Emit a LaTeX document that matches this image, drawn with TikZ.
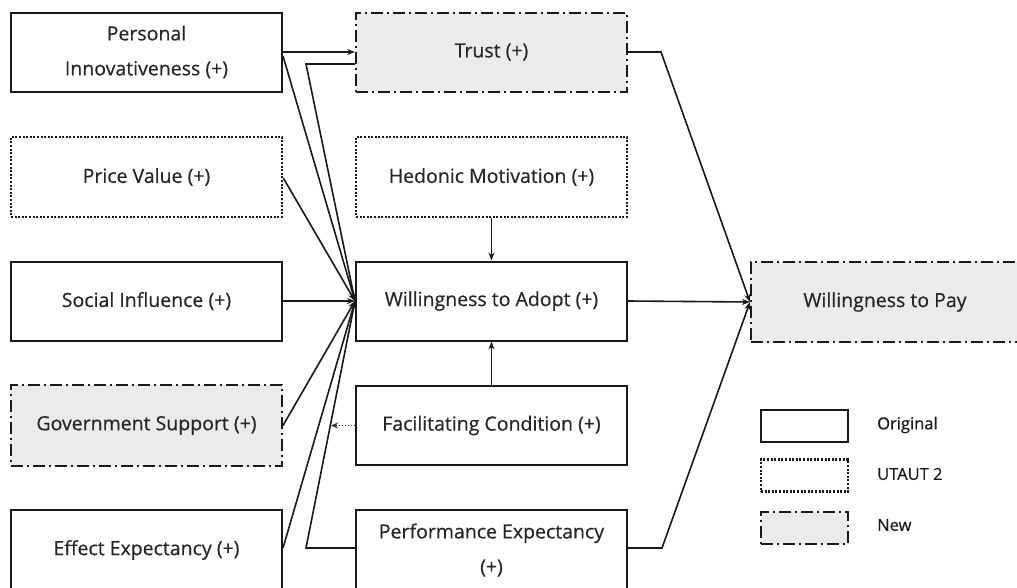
\documentclass[tikz,border=0pt]{standalone}
\usepackage{fontspec}
\setmainfont{Open Sans}[FakeBold=0.5]
\usetikzlibrary{arrows.meta}
\begin{document}
\begin{tikzpicture}[x=1pt,y=-1pt,
  box/.style={draw=black!90, line width=2pt, minimum width=271pt, minimum height=79pt,
    inner sep=0pt, align=center, text=black!85, font=\fontsize{19.5}{35}\selectfont},
  orig/.style={box},
  utaut/.style={box, dash pattern=on 2pt off 1.6pt, line width=2.6pt},
  newc/.style={box, fill=black!8, dash pattern=on 12pt off 4pt on 2pt off 4pt},
  legbox/.style={minimum width=87pt, minimum height=32pt, font=\fontsize{1}{1}\selectfont},
  leglabel/.style={anchor=west, inner sep=0pt, text=black!90, font=\fontsize{16.5}{18}\selectfont},
  link/.style={draw=black!90, line width=1.6pt},
  arr/.style={link, -{Stealth[length=8pt,width=6pt]}},
  darr/.style={draw=black!80, line width=1.6pt, dash pattern=on 1.5pt off 1.5pt, -{Stealth[length=7pt,width=6pt]}},
]
\useasboundingbox (0,0) rectangle (1017,587);
\clip (0,0) rectangle (1017,587);

% left column
\node[orig]  (pi) at (146.5,52)    {Personal\\Innovativeness (+)};
\node[utaut, minimum height=80pt] (pv) at (146.5,177) {Price Value (+)};
\node[orig]  (si) at (146.5,301)   {Social Influence (+)};
\node[newc, minimum height=81pt]  (gs) at (146.5,425.5) {Government Support (+)};
\node[orig, minimum height=80pt]  (ee) at (146.5,550) {Effect Expectancy (+)};

% middle column
\node[newc]  (tr) at (491.5,52)    {Trust (+)};
\node[utaut, minimum height=80pt] (hm) at (491.5,177) {Hedonic Motivation (+)};
\node[orig]  (wa) at (491.5,301)   {Willingness to Adopt (+)};
\node[orig]  (fc) at (491.5,425.5) {Facilitating Condition (+)};
\node[orig, minimum height=80pt]  (pe) at (491.5,550) {Performance Expectancy\\(+)};

% outcome
\node[newc, minimum width=268pt, minimum height=80pt] (wp) at (885,302) {Willingness to Pay};

% legend
\node[orig, legbox]  (lo) at (804.5,426)   {};
\node[utaut, legbox] (lu) at (804.5,475.5) {};
\node[newc, legbox]  (ln) at (804.5,527.5) {};
\node[leglabel] (to) at (877,425) {Original};
\node[leglabel] (tu) at (877,474) {UTAUT 2};
\node[leglabel] (tn) at (877,525) {New};

% bend points
\coordinate (trl) at (306,64);
\coordinate (pel) at (306,548);
\coordinate (trr) at (661,52);
\coordinate (per) at (662,548);
\coordinate (fcm) at (331,425.5);

% connectors
\draw[arr] (pi.east |- 0,52) -- (tr.west |- 0,52);
\draw[arr] (283,56) -- (wa.west);
\draw[arr] (tr.west |- trl) -- (trl) -- (wa.west);
\draw[arr] (pv.east |- 0,178) -- (wa.west);
\draw[arr] (si.east |- wa.west) -- (wa.west);
\draw[arr] (gs.east) -- (wa.west);
\draw[arr] (ee.east |- 0,548) -- (wa.west);
\draw[arr] (pe.west |- pel) -- (pel) -- (wa.west);
\draw[darr] (fc.west) -- (fcm);
\draw[arr] (hm.south) -- (wa.north);
\draw[arr] (fc.north) -- (wa.south);
\draw[arr] (wa.east) -- (wp.west);
\draw[arr] (tr.east |- trr) -- (trr) -- (wp.west);
\draw[arr] (pe.east |- per) -- (per) -- (wp.west);
\end{tikzpicture}
\end{document}
